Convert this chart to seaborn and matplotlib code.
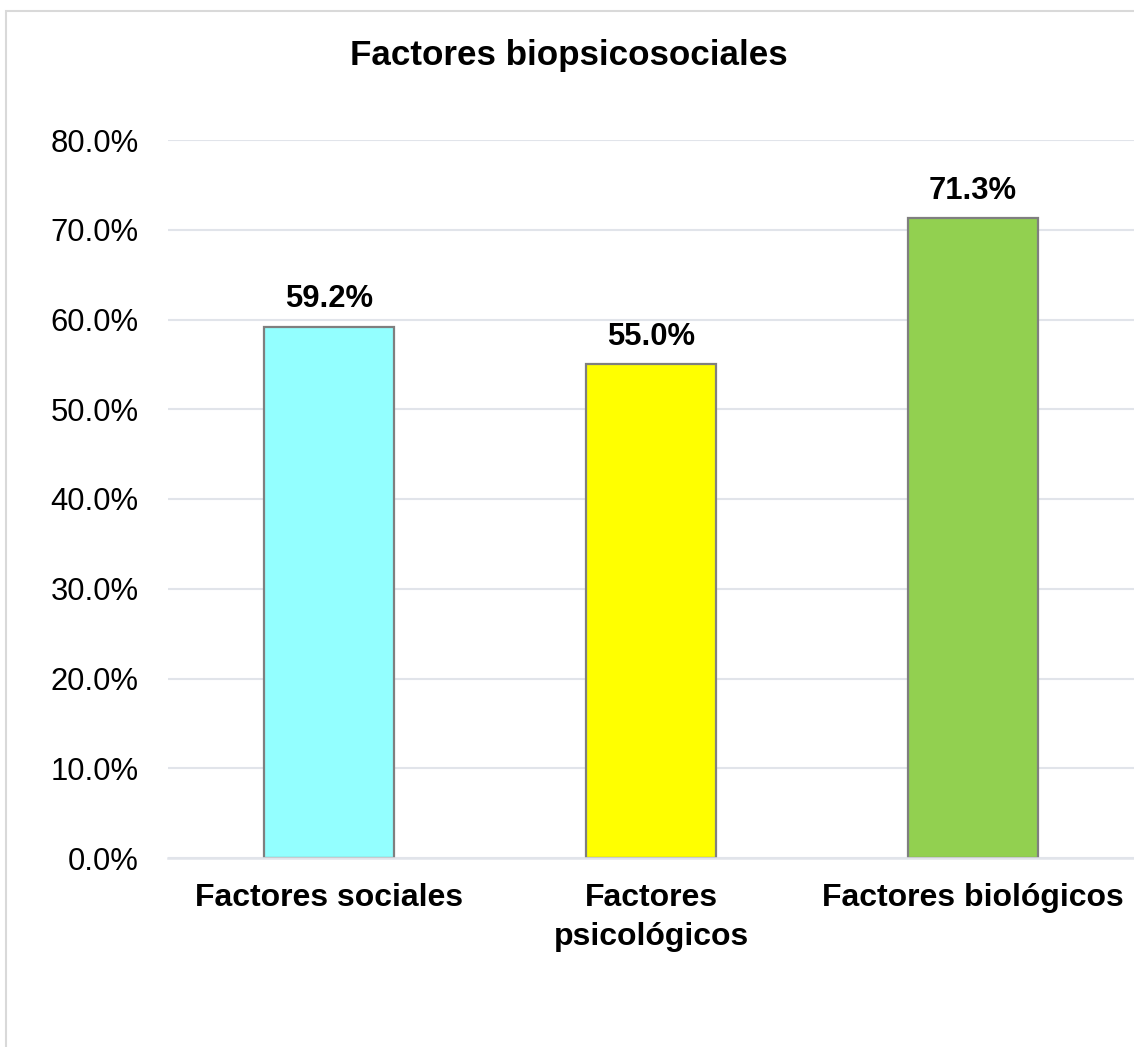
import matplotlib
matplotlib.use("Agg")
import matplotlib.pyplot as plt
import seaborn as sns
import pandas as pd
from matplotlib.patches import Rectangle
from matplotlib.ticker import FuncFormatter

categories = ["Factores sociales", "Factores\npsicológicos", "Factores biológicos"]
values = [0.592, 0.550, 0.713]
colors = ["#93FFFF", "#FFFF00", "#92D050"]
yticks = [0.0, 0.1, 0.2, 0.3, 0.4, 0.5, 0.6, 0.7, 0.8]
title = "Factores biopsicosociales"

sns.set_theme(style="white")
plt.rcParams["font.family"] = ["Liberation Sans", "DejaVu Sans"]

df = pd.DataFrame({"cat": categories, "val": values})

W, H = 1134, 1047
fig = plt.figure(figsize=(W / 100, H / 100), dpi=100)
ax = fig.add_axes([168 / W, 1 - 858 / H, 966 / W, 718 / H])

sns.barplot(data=df, x="cat", y="val", hue="cat", palette=colors, legend=False,
            saturation=1, width=0.403, edgecolor="#7f7f7f", linewidth=1.6, ax=ax, zorder=3)

ax.set_ylim(0, 0.8)
ax.set_xlim(-0.5, 2.5)
ax.set_yticks(yticks)
ax.yaxis.set_major_formatter(FuncFormatter(lambda v, p: f"{v*100:.1f}%"))
ax.tick_params(axis="y", length=0, pad=21, labelsize=22.3, labelcolor="#000000")
ax.tick_params(axis="x", length=0, pad=18, labelsize=23, labelcolor="#000000")
for lab in ax.get_xticklabels():
    lab.set_fontweight("bold")
    lab.set_linespacing(1.38)
ax.set_xlabel("")
ax.set_ylabel("")
ax.grid(axis="y", color="#e1e4ea", linewidth=1.5, zorder=0)
ax.set_axisbelow(True)
for s in ["top", "right", "left"]:
    ax.spines[s].set_visible(False)
ax.spines["bottom"].set_color("#e1e4ea")
ax.spines["bottom"].set_linewidth(1.8)
ax.spines["bottom"].set_zorder(4)

for c in ax.containers:
    ax.bar_label(c, labels=[f"{v*100:.1f}%" for v in c.datavalues], padding=9,
                 fontsize=22.3, fontweight="bold", color="#000000")

fig.text(569 / W, 1 - 56 / H, title, ha="center", va="center",
         fontsize=25.2, fontweight="bold", color="#000000")

fig.patches.append(Rectangle((6 / W, -0.1), 1.2, 1.1 - 11 / H, transform=fig.transFigure,
                             fill=False, edgecolor="#d9d9d9", linewidth=1.5))

fig.savefig("out.png", dpi=100)
